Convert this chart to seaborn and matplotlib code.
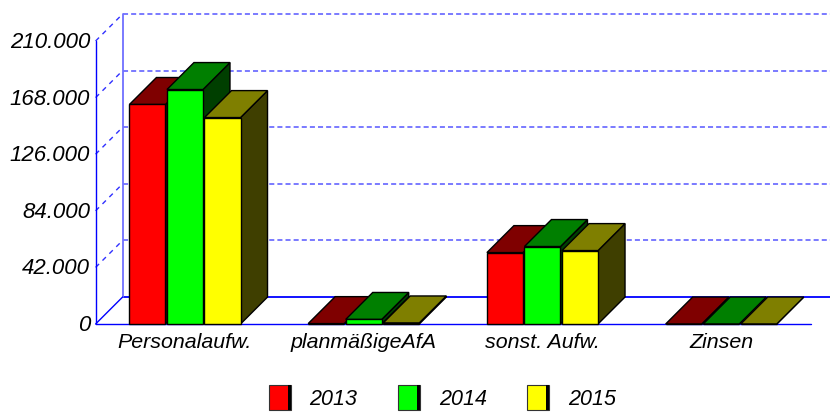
import matplotlib as mpl
import matplotlib.pyplot as plt
import pandas as pd
import seaborn as sns
from matplotlib.patches import Polygon, Rectangle
from matplotlib.transforms import ScaledTranslation

mpl.use('Agg')

categories = ['Personalaufw.', 'planmäßigeAfA', 'sonst. Aufw.', 'Zinsen']
years = ['2013', '2014', '2015']
values_2013 = [162900, 300, 53000, 0]
values_2014 = [174000, 3400, 57500, 0]
values_2015 = [153200, 800, 54500, 0]
y_ticks = [0, 42000, 84000, 126000, 168000, 210000]

front_colors = ['#ff0000', '#00ff00', '#ffff00']
top_colors = ['#7f0000', '#007f00', '#7f7f00']
side_colors = ['#3f0000', '#003f00', '#3f3f00']

# depth of the fake 3d in data units (27px on both axes)
depth_x = 0.151
depth_y = 20000


class SwatchHandler:
    # legend box with the thick black right edge of the original
    def legend_artist(self, legend, orig_handle, fontsize, handlebox):
        x0, y0 = -handlebox.xdescent, -handlebox.ydescent
        w, h = handlebox.width, handlebox.height
        face = Rectangle((x0, y0), w, h, facecolor=orig_handle.get_facecolor(),
                         edgecolor='#333333', linewidth=0.8, transform=handlebox.get_transform())
        edge = Rectangle((x0 + w - 2, y0), 2, h, facecolor='black', edgecolor='none',
                         transform=handlebox.get_transform())
        handlebox.add_artist(face)
        handlebox.add_artist(edge)
        return face


df = pd.DataFrame({
    'category': categories * 3,
    'year': [y for y in years for _ in categories],
    'value': values_2013 + values_2014 + values_2015,
})

sns.set_theme(style='white')
plt.rcParams['font.family'] = ['Liberation Sans', 'DejaVu Sans']

fig = plt.figure(figsize=(8.3, 4.15), dpi=100)
ax = fig.add_axes([95.6 / 830, 91 / 415, 715 / 830, 283 / 415])

sns.barplot(data=df, x='category', y='value', hue='year', palette=front_colors,
            order=categories, hue_order=years, width=0.63, gap=0.04,
            edgecolor='black', linewidth=1, saturation=1, errorbar=None, ax=ax)
ax.set_xlim(-0.5, 3.5)
ax.set_ylim(0, 210000)

for c, container in enumerate(ax.containers):
    for b, bar in enumerate(container):
        x0, x1 = bar.get_x(), bar.get_x() + bar.get_width()
        h = bar.get_height()
        z = 5 + b + c * 0.1
        bar.set_zorder(z + 0.02)
        bar.set_clip_on(False)
        top = Polygon([(x0, h), (x0 + depth_x, h + depth_y), (x1 + depth_x, h + depth_y), (x1, h)],
                      facecolor=top_colors[c], edgecolor='black', linewidth=1, zorder=z + 0.01, clip_on=False)
        side = Polygon([(x1, 0), (x1 + depth_x, depth_y), (x1 + depth_x, h + depth_y), (x1, h)],
                       facecolor=side_colors[c], edgecolor='black', linewidth=1, zorder=z, clip_on=False)
        ax.add_patch(side)
        ax.add_patch(top)

# back wall and floor
left = -0.5
grid_blue = '#7070ff'
for v in y_ticks[1:]:
    ax.plot([left + depth_x, 3.5 + depth_x], [v + depth_y, v + depth_y], color=grid_blue, lw=1.3,
            ls=(0, (2.8, 1.7)), zorder=1, clip_on=False)
    ax.plot([left, left + depth_x], [v, v + depth_y], color='#3030ff', lw=1, ls=(0, (3.5, 3.5)), zorder=1, clip_on=False)
ax.plot([left + depth_x, 3.5 + depth_x], [depth_y, depth_y], color='#0000ff', lw=1.3, zorder=1, clip_on=False)
ax.plot([left + depth_x, left + depth_x], [depth_y, 210000 + depth_y], color=grid_blue, lw=1.3, zorder=1, clip_on=False)
ax.plot([left, left + depth_x], [0, depth_y], color='#0000ff', lw=1, zorder=1, clip_on=False)
ax.plot([left, left], [0, 210000], color='#0000ff', lw=1, zorder=2, clip_on=False)
ax.plot([left, 3.5], [0, 0], color='#0000ff', lw=1, zorder=2, clip_on=False)

sns.despine(ax=ax, left=True, bottom=True)
ax.patch.set_alpha(0)
ax.set_xlabel('')
ax.set_ylabel('')
ax.set_yticks(y_ticks, [f'{v:,}'.replace(',', '.') for v in y_ticks])
ax.tick_params(axis='both', length=0, labelcolor='black')
ax.tick_params(axis='x', pad=6.5, labelsize=15.4)
ax.tick_params(axis='y', pad=4, labelsize=16)
for label in ax.get_xticklabels():
    label.set_fontstyle('italic')
# labels sit a little above their gridline in the original
up = ScaledTranslation(0, 1 / 100, fig.dpi_scale_trans)
for label in ax.get_yticklabels():
    label.set_fontstyle('italic')
    label.set_transform(label.get_transform() + up)

handles, labels = ax.get_legend_handles_labels()
ax.legend(handles, labels, ncol=3, loc='lower left', bbox_to_anchor=(268.5 / 830, 5 / 415),
          bbox_transform=fig.transFigure, frameon=False, labelcolor='black',
          prop={'style': 'italic', 'size': 15.5}, handler_map={h: SwatchHandler() for h in handles},
          handlelength=1.03, handleheight=1.41, handletextpad=0.88, columnspacing=1.86,
          borderpad=0, borderaxespad=0)

fig.savefig('out.png', dpi=100)
plt.close(fig)
